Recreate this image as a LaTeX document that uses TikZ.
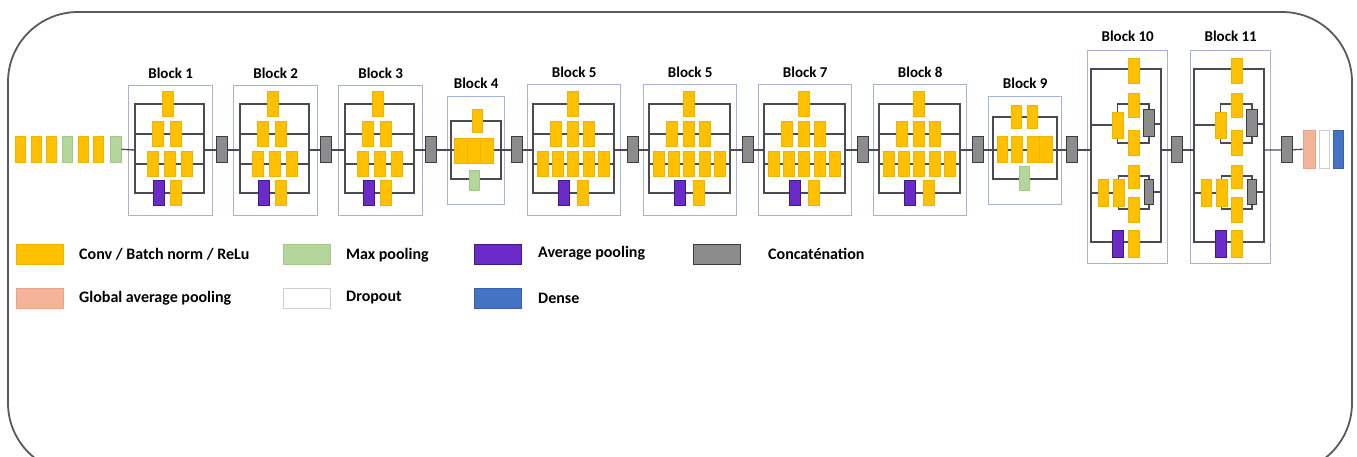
\documentclass[tikz,border=0pt]{standalone}
\usepackage{fontspec}
\setmainfont{Carlito}
\definecolor{convY}{HTML}{FFC000}
\definecolor{convE}{HTML}{EFB400}
\definecolor{poolG}{HTML}{B4D69C}
\definecolor{poolGE}{HTML}{A3C68B}
\definecolor{avgP}{HTML}{6A2BC9}
\definecolor{avgPE}{HTML}{3F1B85}
\definecolor{catG}{HTML}{8C8C8C}
\definecolor{catE}{HTML}{3C3C46}
\definecolor{gapS}{HTML}{F4B49A}
\definecolor{gapSE}{HTML}{E8A488}
\definecolor{denseB}{HTML}{4472C4}
\definecolor{denseBE}{HTML}{3A62AA}
\definecolor{dropE}{HTML}{CFCFCF}
\definecolor{frameB}{HTML}{A3B4D8}
\definecolor{wireC}{HTML}{4A4A55}
\definecolor{outerC}{HTML}{5A5A5A}

% Inception block with four branches (1, 2, 3, pool+conv)
\newcommand{\blockA}[3]{%
  \node[frame, minimum width=84pt, minimum height=130pt] (#1) at (#2,85) {};
  \node[title] (#1t) at ([yshift=12pt]#1.north) {#3};
  \coordinate (#1in) at (#2+7,150);
  \coordinate (#1out) at (#2+76,150);
  \draw[wire] (#2+7,104) rectangle (#2+76,193);
  \draw[wire] (#2+7,134) -- (#2+76,134) (#2+7,164) -- (#2+76,164);
  \node[conv] (#1a1) at (#2+40,104) {};
  \node[conv] (#1b1) at (#2+30,134) {};
  \node[conv] (#1b2) at (#2+47.5,134) {};
  \node[conv] (#1c1) at (#2+24.5,164) {};
  \node[conv] (#1c2) at (#2+42,164) {};
  \node[conv] (#1c3) at (#2+59,164) {};
  \node[avgp] (#1d1) at (#2+31,193) {};
  \node[conv] (#1d2) at (#2+48,193) {};
}

% Inception block with four branches (1, 3, 5, pool+conv)
\newcommand{\blockB}[3]{%
  \node[frame, minimum width=93pt, minimum height=131pt] (#1) at (#2,84) {};
  \node[title] (#1t) at ([yshift=12pt]#1.north) {#3};
  \coordinate (#1in) at (#2+6,150);
  \coordinate (#1out) at (#2+87,150);
  \draw[wire] (#2+6,104) rectangle (#2+87,193);
  \draw[wire] (#2+6,134) -- (#2+87,134) (#2+6,164) -- (#2+87,164);
  \node[conv] (#1a1) at (#2+46,104) {};
  \node[conv] (#1b1) at (#2+29,134) {};
  \node[conv] (#1b2) at (#2+46,134) {};
  \node[conv] (#1b3) at (#2+62,134) {};
  \node[conv] (#1c1) at (#2+16,164) {};
  \node[conv] (#1c2) at (#2+31,164) {};
  \node[conv] (#1c3) at (#2+46,164) {};
  \node[conv] (#1c4) at (#2+62,164) {};
  \node[conv] (#1c5) at (#2+77,164) {};
  \node[avgp] (#1d1) at (#2+37,193) {};
  \node[conv] (#1d2) at (#2+56,193) {};
}

% Expanded block with split sub-branches and inner concatenations
\newcommand{\blockD}[3]{%
  \node[frame, minimum width=80pt, minimum height=213pt] (#1) at (#2,50) {};
  \node[title] (#1t) at ([yshift=14pt]#1.north) {#3};
  \coordinate (#1in) at (#2+4,150);
  \coordinate (#1out) at (#2+74,150);
  \draw[wire] (#2+4,69) rectangle (#2+74,242);
  \draw[wire] (#2+4,125) -- (#2+30.5,125);
  \draw[wire] (#2+30.5,104) rectangle (#2+62,143);
  \draw[wire] (#2+62,124) -- (#2+74,124);
  \draw[wire] (#2+4,193) -- (#2+31.5,193);
  \draw[wire] (#2+31.5,176) rectangle (#2+62,209);
  \draw[wire] (#2+62,192) -- (#2+74,192);
  \node[conv] (#1a1) at (#2+46.5,70.5) {};
  \node[conv, minimum height=26pt] (#1b1) at (#2+30.5,125) {};
  \node[conv, minimum height=24pt] (#1b2) at (#2+46.5,105) {};
  \node[conv] (#1b3) at (#2+46.5,143) {};
  \node[cat, minimum height=27pt] (#1b4) at (#2+62,123.5) {};
  \node[conv, minimum width=10pt, minimum height=27pt] (#1c1) at (#2+16,193) {};
  \node[conv, minimum height=27pt] (#1c2) at (#2+31.5,193) {};
  \node[conv, minimum height=23pt] (#1c3) at (#2+46.5,177) {};
  \node[conv] (#1c4) at (#2+46.5,209.5) {};
  \node[cat, minimum width=9pt, minimum height=25pt] (#1c5) at (#2+62,192) {};
  \node[avgp, minimum height=27pt] (#1d1) at (#2+31,243.5) {};
  \node[conv, minimum height=27pt] (#1d2) at (#2+47,243.5) {};
}

\begin{document}
\begin{tikzpicture}[x=1pt,y=-1pt,
  box/.style={rectangle, inner sep=0pt, minimum width=11pt, minimum height=25pt, line width=0.6pt},
  conv/.style={box, fill=convY, draw=convE},
  maxp/.style={box, fill=poolG, draw=poolGE},
  avgp/.style={box, fill=avgP, draw=avgPE},
  cat/.style={box, fill=catG, draw=catE, line width=1pt, minimum height=26pt},
  gap/.style={box, fill=gapS, draw=gapSE},
  drop/.style={box, fill=white, draw=dropE},
  dense/.style={box, fill=denseB, draw=denseBE},
  frame/.style={rectangle, draw=frameB, line width=1.4pt, inner sep=0pt, anchor=north west},
  wire/.style={draw=wireC, line width=1.3pt},
  title/.style={font=\bfseries\fontsize{15}{18}\selectfont, inner sep=0pt},
  legend/.style={font=\bfseries\fontsize{16}{19}\selectfont, anchor=west, inner sep=0pt},
  swatch/.style={rectangle, inner sep=0pt, minimum width=47pt, minimum height=20pt, line width=0.8pt}
]
\useasboundingbox (0,0) rectangle (1357,457);
\fill[white] (0,0) rectangle (1357,457);

% rounded outer border
\draw[outerC, line width=1.8pt, rounded corners=70pt] (8,12) rectangle (1352,473);

% input stem
\node[conv, minimum width=10pt, minimum height=26pt] (s1) at (20,149) {};
\node[conv, minimum width=10pt, minimum height=26pt] (s2) at (36,149) {};
\node[conv, minimum width=10pt, minimum height=26pt] (s3) at (51,149) {};
\node[maxp, minimum width=10pt, minimum height=26pt] (s4) at (67,149) {};
\node[conv, minimum width=10pt, minimum height=26pt] (s5) at (83,149) {};
\node[conv, minimum width=10pt, minimum height=26pt] (s6) at (98,149) {};
\node[maxp, minimum width=11pt, minimum height=26pt] (s7) at (115.5,149) {};

% blocks 1-3
\blockA{B1}{128}{Block 1}
\blockA{B2}{233}{Block 2}
\blockA{B3}{338}{Block 3}

% block 4
\node[frame, minimum width=57pt, minimum height=108pt] (B4) at (447,96) {};
\node[title] (B4t) at ([yshift=13pt]B4.north) {Block 4};
\coordinate (B4in) at (451,150);
\coordinate (B4out) at (501,150);
\draw[wire] (451,121) rectangle (501,179);
\draw[wire] (451,150) -- (501,150);
\node[conv, minimum width=10pt, minimum height=23pt] (B4a1) at (477,120.5) {};
\node[conv, minimum width=13pt] (B4b1) at (460.5,150.5) {};
\node[conv, minimum width=13pt] (B4b2) at (473.5,150.5) {};
\node[conv, minimum width=13pt] (B4b3) at (486.5,150.5) {};
\node[maxp, minimum width=10pt, minimum height=20pt] (B4c1) at (474,180) {};

% blocks 5-8
\blockB{B5}{527}{Block 5}
\blockB{B6}{643}{Block 5}
\blockB{B7}{758}{Block 7}
\blockB{B8}{873}{Block 8}

% block 9
\node[frame, minimum width=73pt, minimum height=108pt] (B9) at (988,96) {};
\node[title] (B9t) at ([yshift=13pt]B9.north) {Block 9};
\coordinate (B9in) at (993,150);
\coordinate (B9out) at (1057,150);
\draw[wire] (993,117) rectangle (1057,179);
\draw[wire] (993,150) -- (1057,150);
\node[conv, minimum width=10pt, minimum height=23pt] (B9a1) at (1016,116.5) {};
\node[conv, minimum width=10pt, minimum height=23pt] (B9a2) at (1032,116.5) {};
\node[conv, minimum width=10pt, minimum height=26pt] (B9b1) at (1002,149) {};
\node[conv, minimum width=11pt, minimum height=26pt] (B9b2) at (1016.5,149) {};
\node[conv, minimum width=12.5pt, minimum height=26pt] (B9b3) at (1033.25,149) {};
\node[conv, minimum width=12.5pt, minimum height=26pt] (B9b4) at (1045.75,149) {};
\node[maxp, minimum width=10pt, minimum height=24pt] (B9c1) at (1024,178) {};

% blocks 10-11
\blockD{B10}{1087}{Block 10}
\blockD{B11}{1190}{Block 11}

% concatenations between blocks
\node[cat] (c1) at (221.5,150) {};
\node[cat] (c2) at (325.5,150) {};
\node[cat] (c3) at (431,150) {};
\node[cat] (c4) at (517,150) {};
\node[cat] (c5) at (632.5,150) {};
\node[cat] (c6) at (747.5,150) {};
\node[cat] (c7) at (862.5,150) {};
\node[cat] (c8) at (977.5,150) {};
\node[cat] (c9) at (1072,150) {};
\node[cat] (c10) at (1177,150) {};
\node[cat] (c11) at (1287,150) {};

% classifier head
\node[gap, minimum width=12pt, minimum height=38pt] (h1) at (1309,149) {};
\node[drop, minimum width=10pt, minimum height=38pt] (h2) at (1324,149) {};
\node[dense, minimum width=10pt, minimum height=38pt] (h3) at (1338,149) {};

% main path
\draw[wire] (s7) -- (B1in);
\draw[wire] (B1out) -- (c1) -- (B2in);
\draw[wire] (B2out) -- (c2) -- (B3in);
\draw[wire] (B3out) -- (c3) -- (B4in);
\draw[wire] (B4out) -- (c4) -- (B5in);
\draw[wire] (B5out) -- (c5) -- (B6in);
\draw[wire] (B6out) -- (c6) -- (B7in);
\draw[wire] (B7out) -- (c7) -- (B8in);
\draw[wire] (B8out) -- (c8) -- (B9in);
\draw[wire] (B9out) -- (c9) -- (B10in);
\draw[wire] (B10out) -- (c10) -- (B11in);
\draw[wire] (B11out) -- (c11) -- (h1);

% legend
\node[swatch, fill=convY, draw=convE] (l1) at (40,254) {};
\node[legend] (l1t) at (79,254) {Conv / Batch norm / ReLu};
\node[swatch, fill=poolG, draw=poolGE] (l2) at (306.5,254) {};
\node[legend] (l2t) at (346,255) {Max pooling};
\node[swatch, fill=avgP, draw=avgPE] (l3) at (497.5,254) {};
\node[legend] (l3t) at (538,253) {Average pooling};
\node[swatch, fill=catG, draw=catE] (l4) at (716.5,254) {};
\node[legend] (l4t) at (768,254) {Concaténation};
\node[swatch, fill=gapS, draw=gapSE] (l5) at (40,298) {};
\node[legend] (l5t) at (79,298) {Global average pooling};
\node[swatch, fill=white, draw=dropE] (l6) at (306.5,298) {};
\node[legend] (l6t) at (346,298) {Dropout};
\node[swatch, fill=denseB, draw=denseBE] (l7) at (497.5,298) {};
\node[legend] (l7t) at (538,298) {Dense};
\end{tikzpicture}
\end{document}
